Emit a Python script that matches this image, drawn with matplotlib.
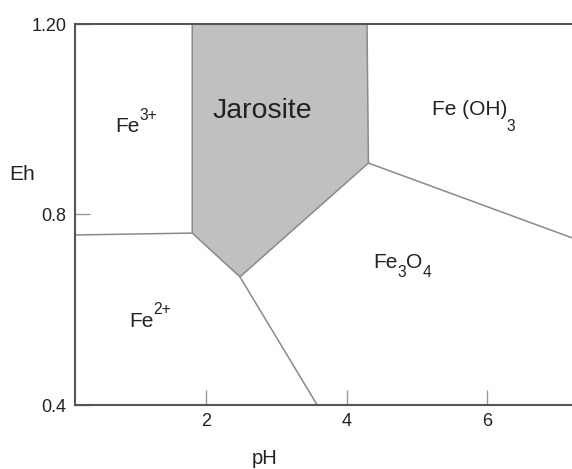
import matplotlib
matplotlib.use("Agg")
import matplotlib.pyplot as plt
from matplotlib.patches import Polygon

plt.rcParams['font.family'] = ['Liberation Sans', 'DejaVu Sans']

# ---- data (pH, Eh) ----
jarosite_ph = [1.80, 4.29, 4.31, 2.48, 1.80]
jarosite_eh = [1.20, 1.20, 0.908, 0.669, 0.761]

fe3_fe2_ph = [0.13, 1.80]
fe3_fe2_eh = [0.757, 0.761]

fe2_fe3o4_ph = [2.48, 3.58]
fe2_fe3o4_eh = [0.669, 0.40]

fe3o4_feoh3_ph = [4.31, 7.21]
fe3o4_feoh3_eh = [0.908, 0.751]

# labels as pieces: (text, kind) kind 0 = normal, 1 = superscript, -1 = subscript, -2 = low subscript
label_pieces = [
    [('Fe', 0), ('3+', 1)],
    [('Jarosite', 0)],
    [('Fe (OH)', 0), ('3', -2)],
    [('Fe', 0), ('3', -1), ('O', 0), ('4', -1)],
    [('Fe', 0), ('2+', 1)],
]
label_left_ph = [0.70, 2.09, 5.22, 4.38, 0.90]
label_base_eh = [0.973, 1.003, 1.008, 0.688, 0.564]
label_size = [15, 20.5, 15, 15, 15]

xticks = [2, 4, 6]
xtick_labels = ['2', '4', '6']
yticks = [0.4, 0.8, 1.2]
ytick_labels = ['0.4', '0.8', '1.20']

fig = plt.figure(figsize=(5.72, 4.69), dpi=100)
ax = fig.add_axes([75/572, 1 - 405/469, 1 - 75/572, (405 - 24)/469])
ax.set_xlim(0.13, 7.21)
ax.set_ylim(0.4, 1.2)

line_col = '#8a8a8a'
ax.add_patch(Polygon(list(zip(jarosite_ph, jarosite_eh)), closed=True,
                     facecolor='#c0c0c0', edgecolor=line_col, linewidth=1.1, zorder=2))
for xs, ys in [(fe3_fe2_ph, fe3_fe2_eh), (fe2_fe3o4_ph, fe2_fe3o4_eh),
               (fe3o4_feoh3_ph, fe3o4_feoh3_eh)]:
    ax.plot(xs, ys, color=line_col, linewidth=1.1, zorder=2)

renderer = fig.canvas.get_renderer()
shift_factor = {0: 0.0, 1: 0.6, -1: -0.45, -2: -0.75}
for pieces, x, y, s in zip(label_pieces, label_left_ph, label_base_eh, label_size):
    dx = 0.0
    for txt, kind in pieces:
        fs = s if kind == 0 else s * 0.75
        dy = shift_factor[kind] * s
        xoff = dx - (s * 0.08 if kind == -2 else 0.0)
        t = ax.annotate(txt, (x, y), xytext=(xoff, dy), textcoords='offset points',
                        fontsize=fs, color='#222222', ha='left', va='baseline', zorder=3)
        bb = t.get_window_extent(renderer)
        dx = xoff + bb.width * 72 / fig.dpi

for side in ['left', 'bottom', 'top']:
    ax.spines[side].set_color('#555555')
    ax.spines[side].set_linewidth(1.5)
    ax.spines[side].set_zorder(4)
ax.spines['right'].set_visible(False)

ax.set_xticks(xticks)
ax.set_xticklabels(xtick_labels)
ax.set_yticks(yticks)
ax.set_yticklabels(ytick_labels)
ax.tick_params(axis='both', direction='in', length=11, width=1.0,
               color='#999999', labelsize=13, labelcolor='#222222', pad=6)

fig.text(22/572, 1 - 174/469, 'Eh', fontsize=15, color='#222222', ha='center', va='center')
fig.text(265/572, 1 - 458/469, 'pH', fontsize=14.5, color='#222222', ha='center', va='center')

fig.savefig('out.png', dpi=100)
